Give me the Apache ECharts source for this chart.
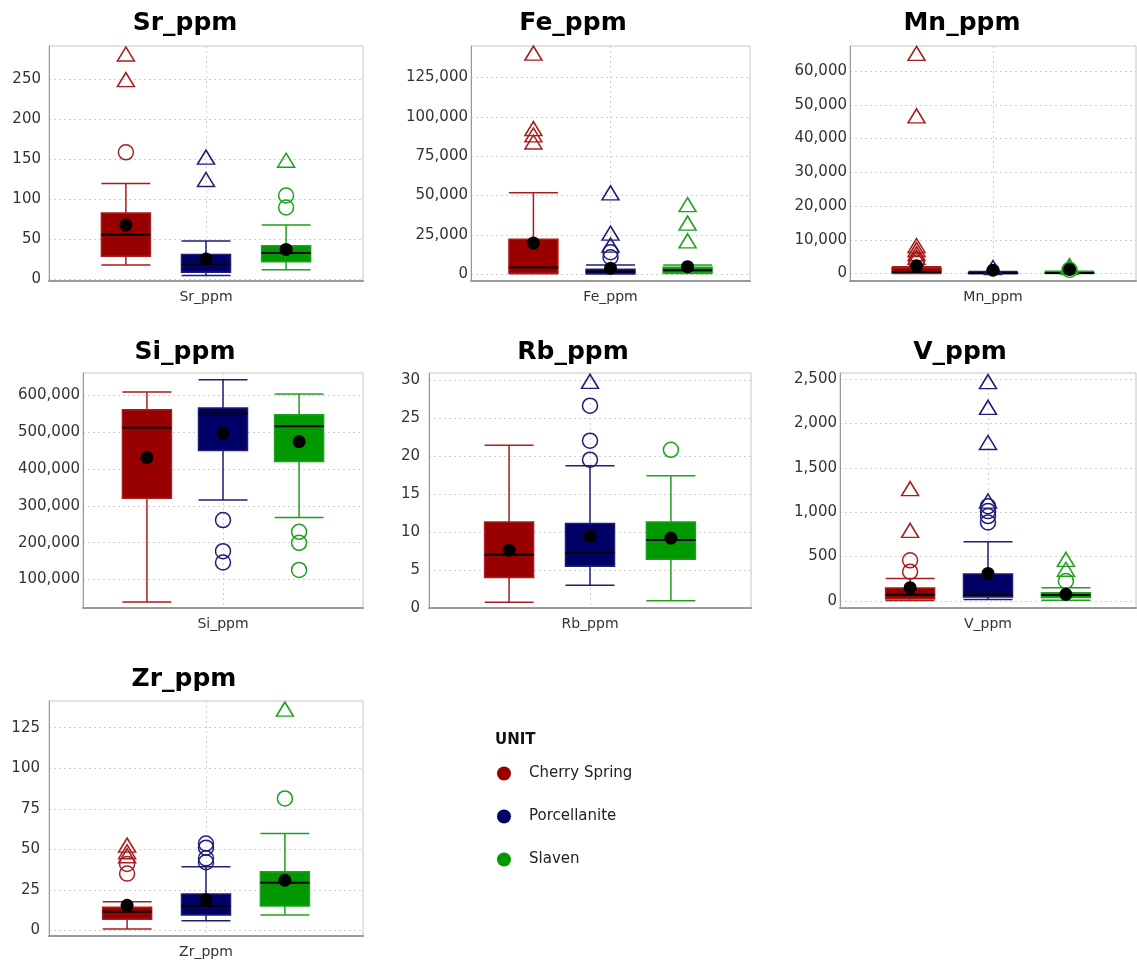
<!DOCTYPE html>
<html><head><meta charset="utf-8">
<script src="https://cdn.jsdelivr.net/npm/echarts@6/dist/echarts.min.js"></script>
<style>html,body{margin:0;padding:0;background:#fff}#c{width:1137px;height:962px}</style>
</head><body><div id="c"></div>
<script>
// ---------------- DATA ----------------
const units = ['Cherry Spring', 'Porcellanite', 'Slaven'];
const panels = ['Sr_ppm', 'Fe_ppm', 'Mn_ppm', 'Si_ppm', 'Rb_ppm', 'V_ppm', 'Zr_ppm'];
const unitPos = [-1, 0, 1];

// box stats per unit: [min, Q1, median, Q3, max]
const srBox = [[18, 29, 56, 83, 120], [5, 9, 19, 31, 48], [12, 22, 33, 42, 68]];
const srMean = [68, 25.5, 37.5];
const srCircle = [[159], [], [105, 90]];
const srTriangle = [[282, 250], [153, 125], [149]];

const feBox = [[300, 700, 4200, 22300, 51800], [100, 300, 1700, 3200, 5900], [400, 900, 2500, 4500, 5900]];
const feMean = [19800, 3800, 4800];
const feCircle = [[], [14000, 10800], []];
const feTriangle = [[140500, 92500, 88500, 84000], [51700, 26100, 18500], [44200, 32500, 21200]];

const mnBox = [[0, 250, 470, 1750, 2000], [0, 30, 120, 350, 600], [10, 80, 200, 380, 700]];
const mnMean = [2300, 1000, 1200];
const mnCircle = [[3900, 3300], [], [1100]];
const mnTriangle = [[65200, 46700, 8300, 7100, 5900, 4800], [1800], [2400, 1800]];

const siBox = [[39000, 320600, 512000, 561000, 609200], [316000, 450200, 551000, 565600, 642700], [268800, 420300, 516600, 547400, 603800]];
const siMean = [431000, 497500, 474700];
const siCircle = [[], [261500, 177000, 146300], [229600, 199700, 126100]];
const siTriangle = [[], [], []];

const rbBox = [[0.75, 4.0, 7.0, 11.3, 21.4], [3.0, 5.5, 7.25, 11.1, 18.7], [0.95, 6.4, 8.95, 11.3, 17.4]];
const rbMean = [7.6, 9.4, 9.2];
const rbCircle = [[], [19.5, 22.0, 26.6], [20.8]];
const rbTriangle = [[], [29.8], []];

const vBox = [[5, 25, 70, 146, 252], [16, 45, 67, 305, 668], [8, 40, 67, 94, 150]];
const vMean = [150, 310, 75];
const vCircle = [[458, 330], [1068, 1012, 956, 885], [225]];
const vTriangle = [[1265, 795], [2470, 2180, 1785, 1125], [469, 357]];

const zrBox = [[0.8, 6.8, 11.5, 14.2, 17.6], [5.9, 9.4, 15, 22.4, 39.2], [9.4, 15, 29.4, 36.1, 59.8]];
const zrMean = [15.4, 18.9, 30.9];
const zrCircle = [[41, 35], [53.6, 51, 44.4, 42], [81.4]];
const zrTriangle = [[52.6, 48.5, 46], [], [136.5]];

// tick labels
const srTicks = [0, 50, 100, 150, 200, 250];
const feTicks = [0, 25000, 50000, 75000, 100000, 125000];
const mnTicks = [0, 10000, 20000, 30000, 40000, 50000, 60000];
const siTicks = [100000, 200000, 300000, 400000, 500000, 600000];
const rbTicks = [0, 5, 10, 15, 20, 25, 30];
const vTicks = [0, 500, 1000, 1500, 2000, 2500];
const zrTicks = [0, 25, 50, 75, 100, 125];

// ---------------- LAYOUT / STYLE ----------------
const fill = ['#990000', '#000066', '#009900'];
const stroke = ['#a81e1e', '#1e1e78', '#1fa01f'];

const panelData = [
  {box: srBox, mean: srMean, circ: srCircle, tri: srTriangle, ticks: srTicks},
  {box: feBox, mean: feMean, circ: feCircle, tri: feTriangle, ticks: feTicks},
  {box: mnBox, mean: mnMean, circ: mnCircle, tri: mnTriangle, ticks: mnTicks},
  {box: siBox, mean: siMean, circ: siCircle, tri: siTriangle, ticks: siTicks},
  {box: rbBox, mean: rbMean, circ: rbCircle, tri: rbTriangle, ticks: rbTicks},
  {box: vBox, mean: vMean, circ: vCircle, tri: vTriangle, ticks: vTicks},
  {box: zrBox, mean: zrMean, circ: zrCircle, tri: zrTriangle, ticks: zrTicks}
];

const layout = [
  {left: 49, top: 46, width: 314, height: 235, xHalf: 1.96, yMin: -2, yMax: 292, margin: 8, tx: 185, ty: 23},
  {left: 471, top: 46, width: 279, height: 235, xHalf: 1.81, yMin: -4300, yMax: 145000, margin: 3, tx: 573, ty: 23},
  {left: 850, top: 46, width: 286, height: 235, xHalf: 1.87, yMin: -2200, yMax: 67400, margin: 3, tx: 962, ty: 23},
  {left: 83, top: 373, width: 280, height: 235, xHalf: 1.84, yMin: 22700, yMax: 661000, margin: 3, tx: 185, ty: 352},
  {left: 429, top: 373, width: 322, height: 235, xHalf: 1.99, yMin: 0, yMax: 30.9, margin: 9, tx: 573, ty: 352},
  {left: 840, top: 373, width: 296, height: 235, xHalf: 1.90, yMin: -79, yMax: 2567, margin: 3, tx: 960, ty: 352},
  {left: 49, top: 701, width: 314, height: 235, xHalf: 1.99, yMin: -3.5, yMax: 141.5, margin: 9, tx: 184, ty: 679}
];

const FONT = '"DejaVu Sans", Verdana, sans-serif';

const grids = [], xAxes = [], yAxes = [], series = [], graphics = [];

panels.forEach((p, i) => {
  const L = layout[i], d = panelData[i];
  grids.push({left: L.left, top: L.top, width: L.width, height: L.height,
    show: true, borderColor: '#c6c6c6', borderWidth: 1, containLabel: false});
  xAxes.push({type: 'value', gridIndex: i, min: -L.xHalf, max: L.xHalf,
    name: p, nameLocation: 'middle', nameGap: 9,
    nameTextStyle: {fontFamily: FONT, fontSize: 14, color: '#333'},
    axisLine: {show: true, onZero: false, lineStyle: {color: '#9a9a9a', width: 2}},
    axisTick: {show: false, customValues: [0]},
    axisLabel: {show: false},
    splitLine: {show: true, lineStyle: {color: '#cfcfcf', type: [2, 3], width: 1}}
  });
  yAxes.push({type: 'value', gridIndex: i, min: L.yMin, max: L.yMax,
    axisLine: {show: true, onZero: false, lineStyle: {color: '#9a9a9a', width: 1}},
    axisTick: {show: false, customValues: d.ticks},
    axisLabel: {show: true, customValues: d.ticks, margin: L.margin,
      fontFamily: FONT, fontSize: 15, color: '#333',
      formatter: v => Number(v).toLocaleString('en-US')},
    splitLine: {show: true, lineStyle: {color: '#cfcfcf', type: [2, 3], width: 1}}
  });

  series.push({type: 'boxplot', xAxisIndex: i, yAxisIndex: i, boxWidth: [49, 49],
    silent: true, z: 2, animation: false,
    data: units.map((u, k) => ({name: u, value: [unitPos[k]].concat(d.box[k]),
      itemStyle: {color: fill[k], borderColor: stroke[k], borderWidth: 1.5}}))});
  series.push({type: 'scatter', xAxisIndex: i, yAxisIndex: i, silent: true, z: 3,
    symbol: 'rect', symbolSize: [49, 2], itemStyle: {color: '#000', opacity: 1},
    data: units.map((u, k) => [unitPos[k], d.box[k][2]])});
  units.forEach((u, k) => {
    series.push({name: u, type: 'scatter', xAxisIndex: i, yAxisIndex: i, silent: true, z: 4,
      symbol: 'circle', symbolSize: 15,
      itemStyle: {color: 'rgba(255,255,255,0)', borderColor: stroke[k], borderWidth: 1.5, opacity: 1},
      data: d.circ[k].map(v => [unitPos[k], v])});
    series.push({name: u, type: 'scatter', xAxisIndex: i, yAxisIndex: i, silent: true, z: 4,
      symbol: 'triangle', symbolSize: [17, 14],
      itemStyle: {color: 'rgba(255,255,255,0)', borderColor: stroke[k], borderWidth: 1.5, opacity: 1},
      data: d.tri[k].map(v => [unitPos[k], v])});
  });
  series.push({type: 'scatter', xAxisIndex: i, yAxisIndex: i, silent: true, z: 5,
    symbol: 'circle', symbolSize: 13, itemStyle: {color: '#000', opacity: 1},
    data: units.map((u, k) => [unitPos[k], d.mean[k]])});

  graphics.push({type: 'text', x: L.tx, y: L.ty, silent: true,
    style: {text: p, font: 'bold 25px ' + FONT, fill: '#000',
      align: 'center', verticalAlign: 'middle', textAlign: 'center', textVerticalAlign: 'middle'}});
});

const chart = echarts.init(document.getElementById('c'));
chart.setOption({
  animation: false,
  backgroundColor: '#fff',
  title: [{text: 'UNIT', left: 495, top: 733, padding: 0,
    textStyle: {fontFamily: FONT, fontSize: 15, fontWeight: 'bold', color: '#111'}}],
  legend: {orient: 'vertical', left: 497, top: 766, padding: 0, itemWidth: 14, itemHeight: 14, itemGap: 28,
    selectedMode: false,
    textStyle: {fontFamily: FONT, fontSize: 15, color: '#222', padding: [0, 0, 0, 13]},
    data: units.map((u, k) => ({name: u, icon: 'circle',
      itemStyle: {color: fill[k], borderWidth: 0, opacity: 1}}))},
  grid: grids, xAxis: xAxes, yAxis: yAxes, series: series, graphic: graphics
});
</script></body></html>
